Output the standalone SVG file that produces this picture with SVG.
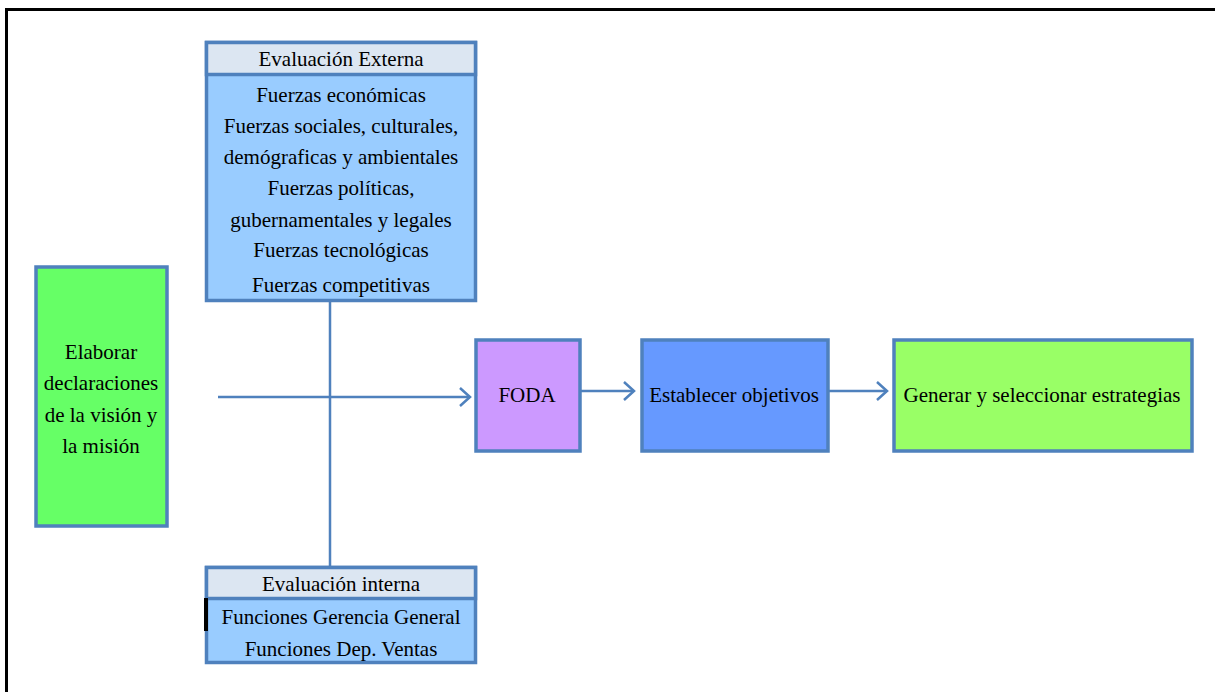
<svg xmlns="http://www.w3.org/2000/svg" width="1215" height="692" viewBox="0 0 1215 692">
<defs>
<style>
.box{stroke:#4f81bd;stroke-width:3.5}
.t{font-family:"Liberation Serif","Times New Roman",serif;font-size:21px;fill:#000;text-anchor:middle}
.ln{stroke:#4f81bd;stroke-width:2.5;fill:none}
</style>
<marker id="arr" markerWidth="14" markerHeight="20" refX="12" refY="10" orient="auto" markerUnits="userSpaceOnUse">
<path d="M2,1 L12,10 L2,19" fill="none" stroke="#4f81bd" stroke-width="2.5"/>
</marker>
</defs>
<rect width="1215" height="692" fill="#fff"/>
<path d="M6.5,692 V9.5 H1215" fill="none" stroke="#000" stroke-width="3"/>
<g id="connectors">
<line class="ln" x1="330" y1="301" x2="330" y2="566"/>
<line class="ln" x1="218" y1="397" x2="470" y2="397" marker-end="url(#arr)"/>
<line class="ln" x1="580" y1="391" x2="634" y2="391" marker-end="url(#arr)"/>
<line class="ln" x1="828" y1="391" x2="887" y2="391" marker-end="url(#arr)"/>
</g>
<g id="externa">
<rect class="box" x="206.5" y="42.5" width="269" height="258" fill="#99ccff"/>
<rect class="box" x="206.5" y="42.5" width="269" height="32" fill="#dce6f2"/>
<text class="t" x="341" y="66">Evaluación Externa</text>
<text class="t" x="341" y="102">Fuerzas económicas</text>
<text class="t" x="341" y="133">Fuerzas sociales, culturales,</text>
<text class="t" x="341" y="164">demógraficas y ambientales</text>
<text class="t" x="341" y="195">Fuerzas políticas,</text>
<text class="t" x="341" y="227">gubernamentales y legales</text>
<text class="t" x="341" y="257">Fuerzas tecnológicas</text>
<text class="t" x="341" y="292">Fuerzas competitivas</text>
</g>
<g id="interna">
<rect class="box" x="206.5" y="567.5" width="269" height="95" fill="#99ccff"/>
<rect class="box" x="206.5" y="567.5" width="269" height="31" fill="#dce6f2"/>
<rect x="204" y="598" width="4" height="33" fill="#000"/>
<text class="t" x="341" y="591">Evaluación interna</text>
<text class="t" x="341" y="624">Funciones Gerencia General</text>
<text class="t" x="341" y="656">Funciones Dep. Ventas</text>
</g>
<g id="elaborar">
<rect class="box" x="36" y="267" width="131" height="259" fill="#66ff66"/>
<text class="t" x="101" y="359">Elaborar</text>
<text class="t" x="101" y="390">declaraciones</text>
<text class="t" x="101" y="422">de la visión y</text>
<text class="t" x="101" y="453">la misión</text>
</g>
<g id="foda">
<rect class="box" x="476" y="340" width="104" height="111" fill="#cc99ff"/>
<text class="t" x="527" y="402">FODA</text>
</g>
<g id="objetivos">
<rect class="box" x="642" y="340" width="186" height="111" fill="#6699ff"/>
<text class="t" x="734" y="402">Establecer objetivos</text>
</g>
<g id="estrategias">
<rect class="box" x="894" y="340" width="298" height="111" fill="#99ff66"/>
<text class="t" x="1042" y="402">Generar y seleccionar estrategias</text>
</g>
</svg>
